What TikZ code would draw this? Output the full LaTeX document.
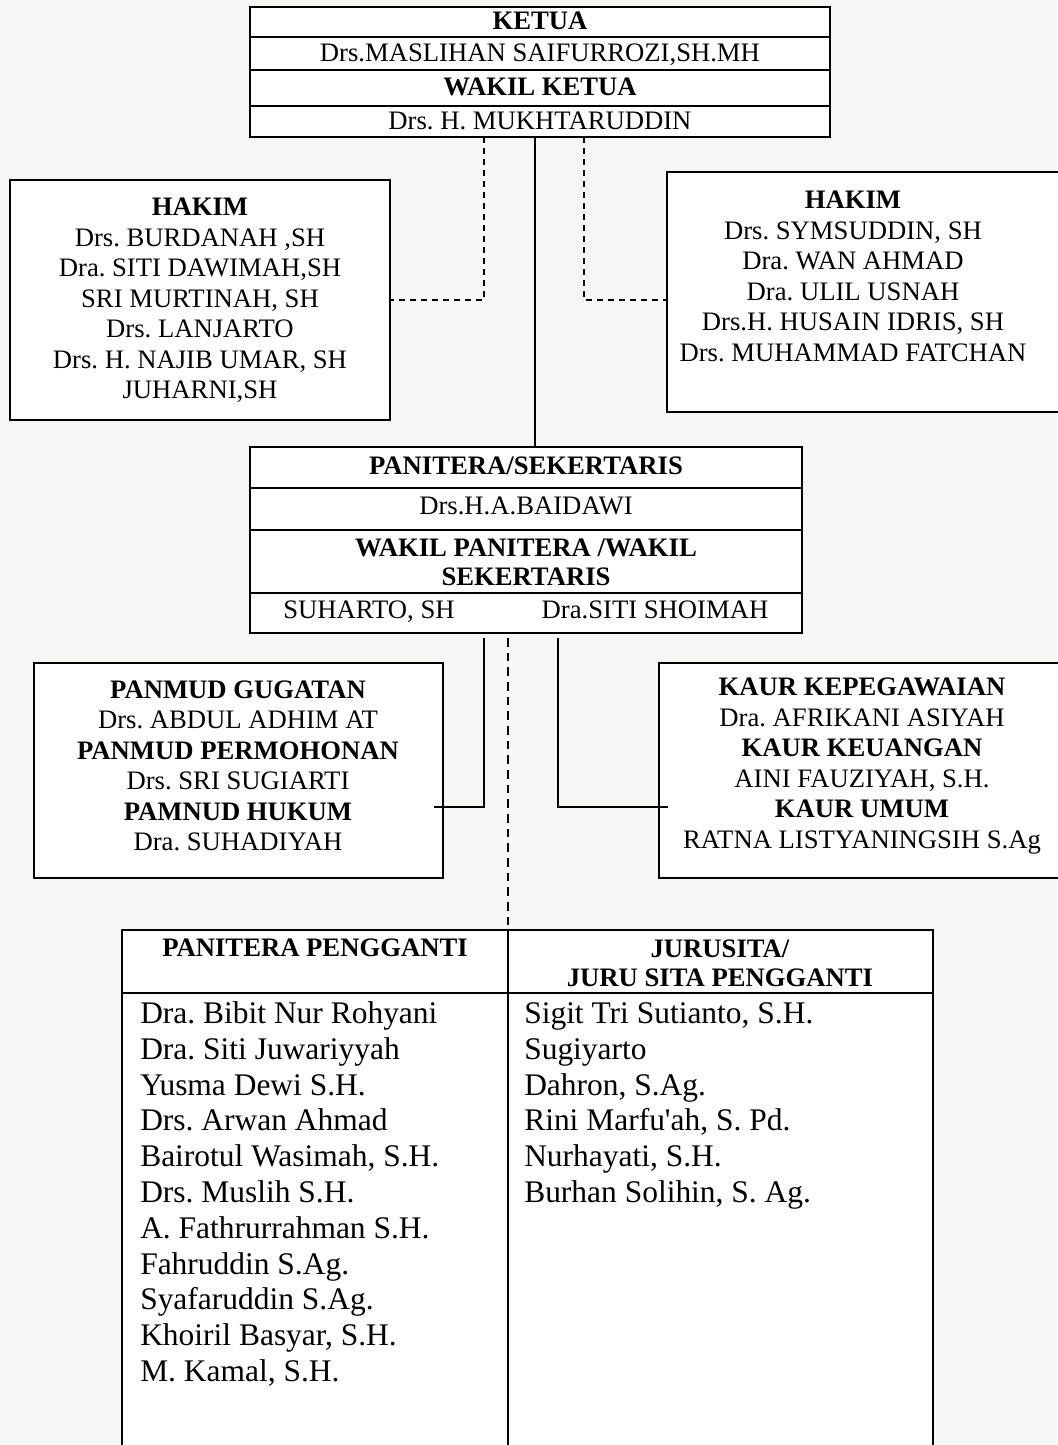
\documentclass[tikz,border=0pt]{standalone}
\usepackage{fontspec}
\setmainfont{Liberation Serif}
\usetikzlibrary{calc}
\definecolor{bgpaper}{RGB}{246,247,245}
\tikzset{
  boxline/.style={draw, fill=white, line width=1.2pt, inner sep=0pt, outer sep=0pt},
  txt/.style={inner sep=0pt, align=center, font=\fontsize{20}{22.9}\selectfont},
  btxt/.style={inner sep=0pt, align=center, font=\fontsize{20}{22.9}\selectfont\bfseries},
  oneline/.style={text height=13.2pt, text depth=0pt},
  conn/.style={line width=1pt},
  dconn/.style={line width=1pt, dash pattern=on 4.5pt off 3.75pt},
  dconnb/.style={line width=1.5pt, dash pattern=on 6.5pt off 4.5pt},
  listname/.style={inner sep=0pt, anchor=west, text height=15.6pt, text depth=0pt, font=\fontsize{23.6}{26.7}\selectfont},
}
\begin{document}
\frenchspacing
\begin{tikzpicture}[x=0.75pt,y=-0.75pt]
\useasboundingbox[fill=bgpaper] (0,0) rectangle (1057,1445);

% ---- top box (Ketua / Wakil Ketua)
\node[boxline, minimum width=435pt, minimum height=22.5pt] (k1) at (540,22) {};
\node[boxline, minimum width=435pt, minimum height=24.75pt] (k2) at (540,53.5) {};
\node[boxline, minimum width=435pt, minimum height=27pt] (k3) at (540,88) {};
\node[boxline, minimum width=435pt, minimum height=23.25pt] (k4) at (540,121.5) {};
\node[btxt, oneline] (k1t) at (540,21) {KETUA};
\node[txt, oneline] (k2t) at (540,53) {Drs.MASLIHAN SAIFURROZI,SH.MH};
\node[btxt, oneline] (k3t) at (540,87) {WAKIL KETUA};
\node[txt, oneline] (k4t) at (540,121) {Drs. H. MUKHTARUDDIN};

% ---- Hakim boxes
\node[boxline, minimum width=285pt, minimum height=180pt] (hkL) at (200,300) {};
\node[txt] (hkLt) at (200,300.5) {\textbf{HAKIM}\\Drs. BURDANAH ,SH\\Dra. SITI DAWIMAH,SH\\SRI MURTINAH, SH\\Drs. LANJARTO\\Drs. H. NAJIB UMAR, SH\\JUHARNI,SH};
\node[boxline, minimum width=294.75pt, minimum height=180pt] (hkR) at (863.5,292) {};
\node[txt] (hkRt) at (853,276.5) {\textbf{HAKIM}\\Drs. SYMSUDDIN, SH\\Dra. WAN AHMAD\\Dra. ULIL USNAH\\Drs.H. HUSAIN IDRIS, SH\\Drs. MUHAMMAD FATCHAN};

% ---- Panitera box
\node[boxline, minimum width=414pt, minimum height=30.75pt] (p1) at (526,467.5) {};
\node[boxline, minimum width=414pt, minimum height=31.5pt] (p2) at (526,509) {};
\node[boxline, minimum width=414pt, minimum height=47.25pt] (p3) at (526,561.5) {};
\node[boxline, minimum width=414pt, minimum height=30pt] (p4) at (526,613) {};
\node[btxt, oneline] (p1t) at (526,466) {PANITERA/SEKERTARIS};
\node[txt, oneline] (p2t) at (526,506) {Drs.H.A.BAIDAWI};
\node[btxt, font=\fontsize{20}{21.75}\selectfont\bfseries] (p3t) at (526,562) {WAKIL PANITERA /WAKIL\\SEKERTARIS};
\node[txt, oneline] (p4a) at (369,610) {SUHARTO, SH};
\node[txt, oneline] (p4b) at (655,610) {Dra.SITI SHOIMAH};

% ---- lower boxes
\node[boxline, minimum width=306.75pt, minimum height=161.25pt] (lb) at (238.5,770.5) {};
\node[txt] (lbt) at (238,766) {\textbf{PANMUD GUGATAN}\\Drs. ABDUL ADHIM AT\\\textbf{PANMUD PERMOHONAN}\\Drs. SRI SUGIARTI\\\textbf{PAMNUD HUKUM}\\Dra. SUHADIYAH};
\node[boxline, minimum width=300.75pt, minimum height=161.25pt] (rb) at (859.5,770.5) {};
\node[txt] (rbt) at (862,766) {\textbf{KAUR KEPEGAWAIAN}\\Dra. AFRIKANI ASIYAH\\\textbf{KAUR KEUANGAN}\\AINI FAUZIYAH, S.H.\\\textbf{KAUR UMUM}\\RATNA LISTYANINGSIH S.Ag};

% ---- table
\node[boxline, minimum width=289.5pt, minimum height=47.25pt] (thL) at (315,961.5) {};
\node[boxline, minimum width=318.75pt, minimum height=47.25pt] (thR) at (720.5,961.5) {};
\node[boxline, minimum width=289.5pt, minimum height=342.75pt] (tbL) at (315,1221.5) {};
\node[boxline, minimum width=318.75pt, minimum height=342.75pt] (tbR) at (720.5,1221.5) {};
\node[btxt, oneline] (thLt) at (315,948) {PANITERA PENGGANTI};
\node[btxt, font=\fontsize{20}{21.75}\selectfont\bfseries] (thRt) at (720,963.5) {JURUSITA/\\JURU SITA PENGGANTI};

\foreach \n [count=\i from 0] in {{Dra. Bibit Nur Rohyani},{Dra. Siti Juwariyyah},{Yusma Dewi S.H.},{Drs. Arwan Ahmad},{Bairotul Wasimah, S.H.},{Drs. Muslih S.H.},{A. Fathrurrahman S.H.},{Fahruddin S.Ag.},{Syafaruddin S.Ag.},{Khoiril Basyar, S.H.},{M. Kamal, S.H.}}
  \node[listname] (pp\i) at (140,{1013+35.8*\i}) {\n};
\foreach \n [count=\i from 0] in {{Sigit Tri Sutianto, S.H.},{Sugiyarto},{Dahron, S.Ag.},{Rini Marfu\textquotesingle ah, S. Pd.},{Nurhayati, S.H.},{Burhan Solihin, S. Ag.}}
  \node[listname] (js\i) at (524,{1013+35.8*\i}) {\n};

% ---- connectors
\coordinate (dl) at (484,300);
\coordinate (dr) at (584,300);
\coordinate (sv) at (535,300);
\draw[dconn] (k4.south -| dl) -- (dl) -- (hkL.east |- dl);
\draw[dconn] (k4.south -| dr) -- (dr) -- (hkR.west |- dr);
\draw[conn] (k4.south -| sv) -- (p1.north -| sv);

\coordinate (cl) at (484,807);
\coordinate (cr) at (558,807);
\coordinate (cd) at (508,800);
\draw[conn, shorten <=3.75pt, shorten >=-6.5pt] (p4.south -| cl) -- (cl) -- (lb.east |- cl);
\draw[conn, shorten <=3.75pt, shorten >=-6.5pt] (p4.south -| cr) -- (cr) -- (rb.west |- cr);
\draw[dconnb, shorten <=3.75pt] (p4.south -| cd) -- (thL.north -| cd);
\end{tikzpicture}
\end{document}
